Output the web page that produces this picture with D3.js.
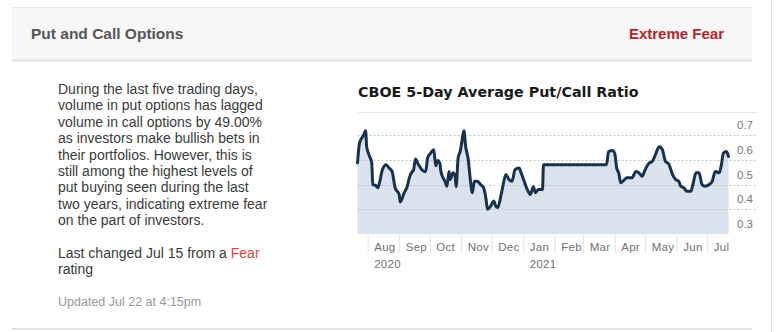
<!DOCTYPE html>
<html>
<head>
<meta charset="utf-8">
<script src="https://cdn.jsdelivr.net/npm/d3@7"></script>
<style>
  html, body { margin: 0; padding: 0; background: #fff; }
  svg { display: block; }
  text { font-family: "Liberation Sans", Arial, sans-serif; }
</style>
</head>
<body>
<svg id="panel" width="780" height="332"></svg>
<script>
// CBOE 5-day average put/call ratio, Jul 2020 – Jul 2021
const dates = [
  "2020-07-22","2020-07-24","2020-07-27","2020-07-28","2020-07-30","2020-07-31","2020-08-03","2020-08-05",
  "2020-08-06","2020-08-09","2020-08-11","2020-08-13","2020-08-15","2020-08-19","2020-08-22","2020-08-25",
  "2020-08-28","2020-09-01","2020-09-02","2020-09-06","2020-09-09","2020-09-11","2020-09-14","2020-09-15",
  "2020-09-17","2020-09-20","2020-09-24","2020-09-27","2020-09-29","2020-10-02","2020-10-05","2020-10-07",
  "2020-10-09","2020-10-11","2020-10-12","2020-10-16","2020-10-18","2020-10-20","2020-10-21","2020-10-24",
  "2020-10-26","2020-10-27","2020-10-29","2020-10-31","2020-11-04","2020-11-05","2020-11-08","2020-11-10",
  "2020-11-12","2020-11-14","2020-11-17","2020-11-20","2020-11-23","2020-11-25","2020-11-27","2020-11-30",
  "2020-12-03","2020-12-05","2020-12-07","2020-12-10","2020-12-12","2020-12-15","2020-12-18","2020-12-21",
  "2020-12-24","2020-12-28","2020-12-30","2021-01-02","2021-01-05","2021-01-08","2021-01-11","2021-01-13",
  "2021-01-16","2021-01-20","2021-01-21","2021-03-24","2021-03-26","2021-03-30","2021-04-01","2021-04-03",
  "2021-04-05","2021-04-07","2021-04-10","2021-04-13","2021-04-18","2021-04-22","2021-04-25","2021-04-28",
  "2021-05-01","2021-05-05","2021-05-08","2021-05-11","2021-05-15","2021-05-18","2021-05-21","2021-05-24",
  "2021-05-28","2021-05-31","2021-06-03","2021-06-05","2021-06-08","2021-06-11","2021-06-15","2021-06-17",
  "2021-06-20","2021-06-23","2021-06-26","2021-06-29","2021-07-03","2021-07-06","2021-07-09","2021-07-13",
  "2021-07-15","2021-07-17","2021-07-20","2021-07-22"
];
const ratios = [
  0.587,0.667,0.693,0.700,0.717,0.653,0.613,0.587,
  0.500,0.496,0.487,0.513,0.553,0.580,0.567,0.553,
  0.487,0.460,0.429,0.467,0.493,0.527,0.553,0.556,
  0.603,0.580,0.557,0.552,0.607,0.627,0.640,0.576,
  0.597,0.587,0.553,0.513,0.493,0.553,0.520,0.547,
  0.533,0.491,0.607,0.633,0.717,0.667,0.600,0.520,
  0.467,0.513,0.513,0.500,0.487,0.453,0.400,0.413,
  0.433,0.413,0.407,0.453,0.493,0.540,0.520,0.513,
  0.560,0.567,0.547,0.513,0.480,0.460,0.491,0.467,
  0.480,0.480,0.580,0.580,0.633,0.637,0.627,0.567,
  0.547,0.507,0.517,0.527,0.527,0.553,0.547,0.533,
  0.560,0.587,0.593,0.620,0.653,0.640,0.593,0.584,
  0.540,0.520,0.513,0.493,0.487,0.473,0.473,0.500,
  0.547,0.547,0.500,0.493,0.500,0.513,0.553,0.547,
  0.580,0.627,0.633,0.613
];
const yTicks = [0.3, 0.4, 0.5, 0.6, 0.7];
const monthTicks = ["2020-08-01","2020-09-01","2020-10-01","2020-11-01","2020-12-01","2021-01-01",
                    "2021-02-01","2021-03-01","2021-04-01","2021-05-01","2021-06-01","2021-07-01"];
const monthLabels = ["Aug","Sep","Oct","Nov","Dec","Jan","Feb","Mar","Apr","May","Jun","Jul"];
const yearLabels = {"2020-08-01": "2020", "2021-01-01": "2021"};

const parse = d3.timeParse("%Y-%m-%d");
const fmt = d3.timeFormat("%Y-%m-%d");
const series = dates.map((d, i) => ({ date: parse(d), value: ratios[i] }));

const svg = d3.select("#panel");

// ---- card header ----
svg.append("rect").attr("x", 12).attr("y", 7).attr("width", 740).attr("height", 54).attr("fill", "#f7f7f7");
svg.append("line").attr("x1", 12).attr("x2", 752).attr("y1", 7.5).attr("y2", 7.5).attr("stroke", "#e8e8e8");
svg.append("rect").attr("x", 12).attr("y", 59.5).attr("width", 740).attr("height", 2).attr("fill", "#e2e2e2");
svg.append("text").attr("x", 31).attr("y", 38.5)
  .attr("font-size", 15.5).attr("font-weight", "bold").attr("fill", "#555")
  .text("Put and Call Options");
svg.append("text").attr("x", 724).attr("y", 38.5).attr("text-anchor", "end")
  .attr("font-size", 15).attr("font-weight", "bold").attr("fill", "#b3262e")
  .text("Extreme Fear");

// right-hand edge of the page
svg.append("line").attr("x1", 771.5).attr("x2", 771.5).attr("y1", 0).attr("y2", 332).attr("stroke", "#e4e4e4");

// ---- description text ----
const body = [
  "During the last five trading days,",
  "volume in put options has lagged",
  "volume in call options by 49.00%",
  "as investors make bullish bets in",
  "their portfolios. However, this is",
  "still among the highest levels of",
  "put buying seen during the last",
  "two years, indicating extreme fear",
  "on the part of investors."
];
const lh = 16.4;
const top0 = 94;
const desc = svg.append("g").attr("font-size", 14).attr("fill", "#3a3a3a");
body.forEach((t, i) => desc.append("text").attr("x", 58).attr("y", top0 + i * lh).text(t));
const lc = desc.append("text").attr("x", 58).attr("y", top0 + 10 * lh);
lc.append("tspan").text("Last changed Jul 15 from a ");
lc.append("tspan").attr("fill", "#e4483b").text("Fear");
desc.append("text").attr("x", 58).attr("y", top0 + 11 * lh).text("rating");
svg.append("text").attr("x", 58).attr("y", 306).attr("font-size", 12.5).attr("fill", "#999")
  .text("Updated Jul 22 at 4:15pm");

// card bottom border
svg.append("line").attr("x1", 12).attr("x2", 752).attr("y1", 329).attr("y2", 329).attr("stroke", "#e2e2e2").attr("stroke-width", 2);

// ---- chart ----
svg.append("text").attr("x", 358).attr("y", 97)
  .style("font-family", "'DejaVu Sans', sans-serif")
  .attr("font-size", 14.3).attr("font-weight", "bold").attr("fill", "#1a1a1a")
  .text("CBOE 5-Day Average Put/Call Ratio");

const x = d3.scaleTime()
  .domain([parse("2020-07-22"), parse("2021-07-22")])
  .range([357.5, 728.5]);
const y = d3.scaleLinear().domain([0.3, 0.7]).range([234, 135]);

svg.append("line").attr("x1", 358).attr("x2", 757).attr("y1", 112.5).attr("y2", 112.5).attr("stroke", "#e6e6e6");

const area = d3.area().x(d => x(d.date)).y0(y(0.3)).y1(d => y(d.value)).curve(d3.curveMonotoneX);
const line = d3.line().x(d => x(d.date)).y(d => y(d.value)).curve(d3.curveMonotoneX);

svg.append("path").datum(series).attr("d", area).attr("fill", "#d9e2ed");

// dotted grid lines
svg.append("g").selectAll("line").data(yTicks.filter(v => v > 0.3)).join("line")
  .attr("x1", 357.5).attr("x2", 756)
  .attr("y1", d => Math.round(y(d)) + 0.5).attr("y2", d => Math.round(y(d)) + 0.5)
  .attr("stroke", "#c4c4c4").attr("stroke-dasharray", "2,2");

svg.append("path").datum(series).attr("d", line)
  .attr("fill", "none").attr("stroke", "#18324b").attr("stroke-width", 3)
  .attr("stroke-linejoin", "round").attr("stroke-linecap", "round");

// y labels sit just above their grid line, at the right
const yAxis = d3.axisRight(y).tickValues(yTicks).tickSize(0).tickFormat(d3.format(".1f"));
const ya = svg.append("g").attr("transform", "translate(737,-10)").call(yAxis);
ya.select(".domain").remove();
ya.selectAll("text").attr("x", 0).attr("font-size", 11.5).attr("fill", "#777");

// month boundary ticks with labels to their right
const mt = monthTicks.map(parse);
const xAxis = d3.axisBottom(x).tickValues(mt).tickSize(18)
  .tickFormat((d, i) => monthLabels[i]);
const xa = svg.append("g").attr("transform", "translate(0,235)").call(xAxis);
xa.select(".domain").remove();
xa.selectAll(".tick line").attr("stroke", "#e3e3e3");
xa.selectAll(".tick text").attr("text-anchor", "start").attr("x", 6).attr("y", 12).attr("dy", "0.32em")
  .attr("font-size", 11.5).attr("fill", "#707070").style("letter-spacing", "0.3px");
xa.selectAll(".tick").filter(d => yearLabels[fmt(d)])
  .append("text").attr("x", 6).attr("y", 29).attr("dy", "0.32em").attr("text-anchor", "start")
  .attr("font-size", 11.5).attr("fill", "#707070").style("letter-spacing", "0.3px")
  .text(d => yearLabels[fmt(d)]);
</script>
</body>
</html>
